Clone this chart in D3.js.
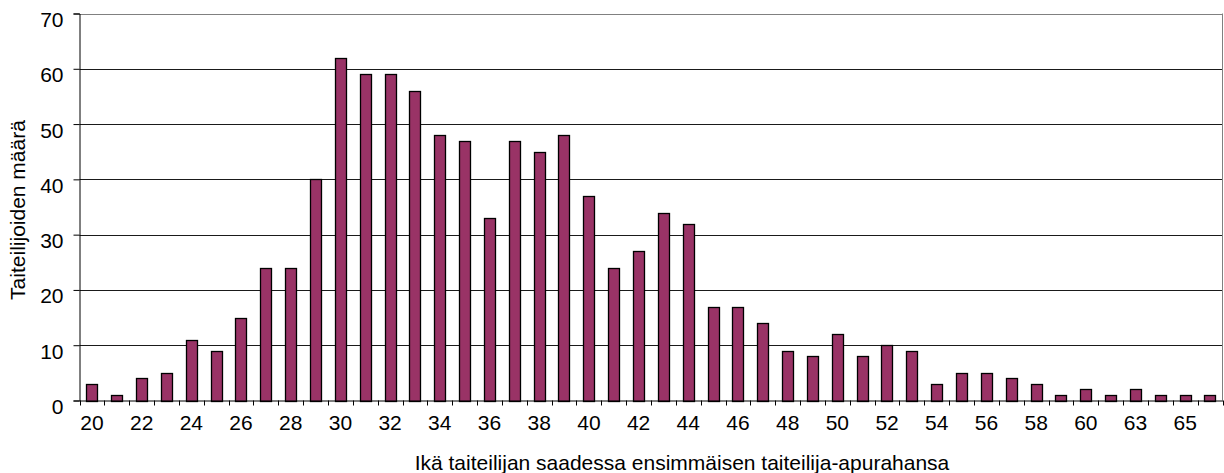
<!DOCTYPE html>
<html><head><meta charset="utf-8">
<script src="https://cdn.jsdelivr.net/npm/d3@7/dist/d3.min.js"></script>
<style>
html,body{margin:0;padding:0;background:#fff;}
text{font-family:"Liberation Sans",Arial,sans-serif;fill:#000;}
</style></head>
<body>
<svg id="chart" width="1224" height="473"></svg>
<script>
const categories = ["20","21","22","23","24","25","26","27","28","29","30","31","32","33","34","35","36","37","38","39","40","41","42","43","44","45","46","47","48","49","50","51","52","53","54","55","56","57","58","59","60","61","63","64","65","66"];
const values = [3,1,4,5,11,9,15,24,24,40,62,59,59,56,48,47,33,47,45,48,37,24,27,34,32,17,17,14,9,8,12,8,10,9,3,5,5,4,3,1,2,1,2,1,1,1];
const yTicks = [0,10,20,30,40,50,60,70];
const xLabels = ["20","22","24","26","28","30","32","34","36","38","40","42","44","46","48","50","52","54","56","58","60","63","65"];
const yTitle = "Taiteilijoiden määrä";
const xTitle = "Ikä taiteilijan saadessa ensimmäisen taiteilija-apurahansa";

const FS = 21;
const svg = d3.select("#chart");
const L = 79.5, R = 1222.5, T = 13.5, B = 400.5;

const xCat = d3.scaleBand().domain(categories).range([L, R]).padding(0);
const xBar = d3.scaleBand().domain(categories).range([L, R]).paddingInner(0.55).paddingOuter(0.275);
const y = d3.scaleLinear().domain([0, 70]).range([B, T]);

// gridlines
svg.append("g").selectAll("line").data(yTicks.filter(t => t > 0)).join("line")
  .attr("x1", L).attr("x2", R)
  .attr("y1", d => Math.round(y(d)) + 0.5).attr("y2", d => Math.round(y(d)) + 0.5)
  .attr("stroke", d => d === 70 ? "#808080" : "#1a1a1a").attr("stroke-width", 1);

// right border
svg.append("line").attr("x1", R).attr("x2", R).attr("y1", T).attr("y2", B)
  .attr("stroke", "#808080").attr("stroke-width", 1);

// bars
svg.append("g").selectAll("rect").data(values).join("rect")
  .attr("x", (d, i) => Math.round(xBar(categories[i])) + 0.5)
  .attr("y", d => Math.round(y(d)) + 0.5)
  .attr("width", Math.round(xBar.bandwidth()))
  .attr("height", d => Math.round(y(0)) - Math.round(y(d)))
  .attr("fill", "#993366").attr("stroke", "#000").attr("stroke-width", 1.3);

// y axis
const yAxis = d3.axisLeft(y).tickValues(yTicks).tickSize(6).tickPadding(10);
const gy = svg.append("g").attr("transform", `translate(${L},0)`).call(yAxis);
gy.select(".domain").attr("stroke", "#000");
gy.selectAll(".tick line").attr("stroke", "#000");
gy.selectAll(".tick text").attr("font-size", FS).attr("dy", "0.62em")
  .attr("font-family", "Liberation Sans, Arial, sans-serif");

// x axis
const xAxis = d3.axisBottom(xCat).tickValues(xLabels).tickSize(0).tickPadding(15);
const gx = svg.append("g").attr("transform", `translate(0,${B})`).call(xAxis);
gx.select(".domain").attr("stroke", "#000");
gx.selectAll(".tick text").attr("font-size", FS)
  .attr("font-family", "Liberation Sans, Arial, sans-serif");
// boundary tick marks
gx.append("g").selectAll("line").data(categories.concat(["__end"])).join("line")
  .attr("x1", (d, i) => Math.round(i < categories.length ? xCat(d) : R) + 0.5)
  .attr("x2", (d, i) => Math.round(i < categories.length ? xCat(d) : R) + 0.5)
  .attr("y1", 0).attr("y2", 5).attr("stroke", "#000");

// titles
svg.append("text").attr("transform", `translate(25,${(T + B) / 2 + 3}) rotate(-90)`)
  .attr("text-anchor", "middle").attr("font-size", FS).text(yTitle);
svg.append("text").attr("x", 682).attr("y", 470)
  .attr("text-anchor", "middle").attr("font-size", FS).text(xTitle);
</script>
</body></html>
